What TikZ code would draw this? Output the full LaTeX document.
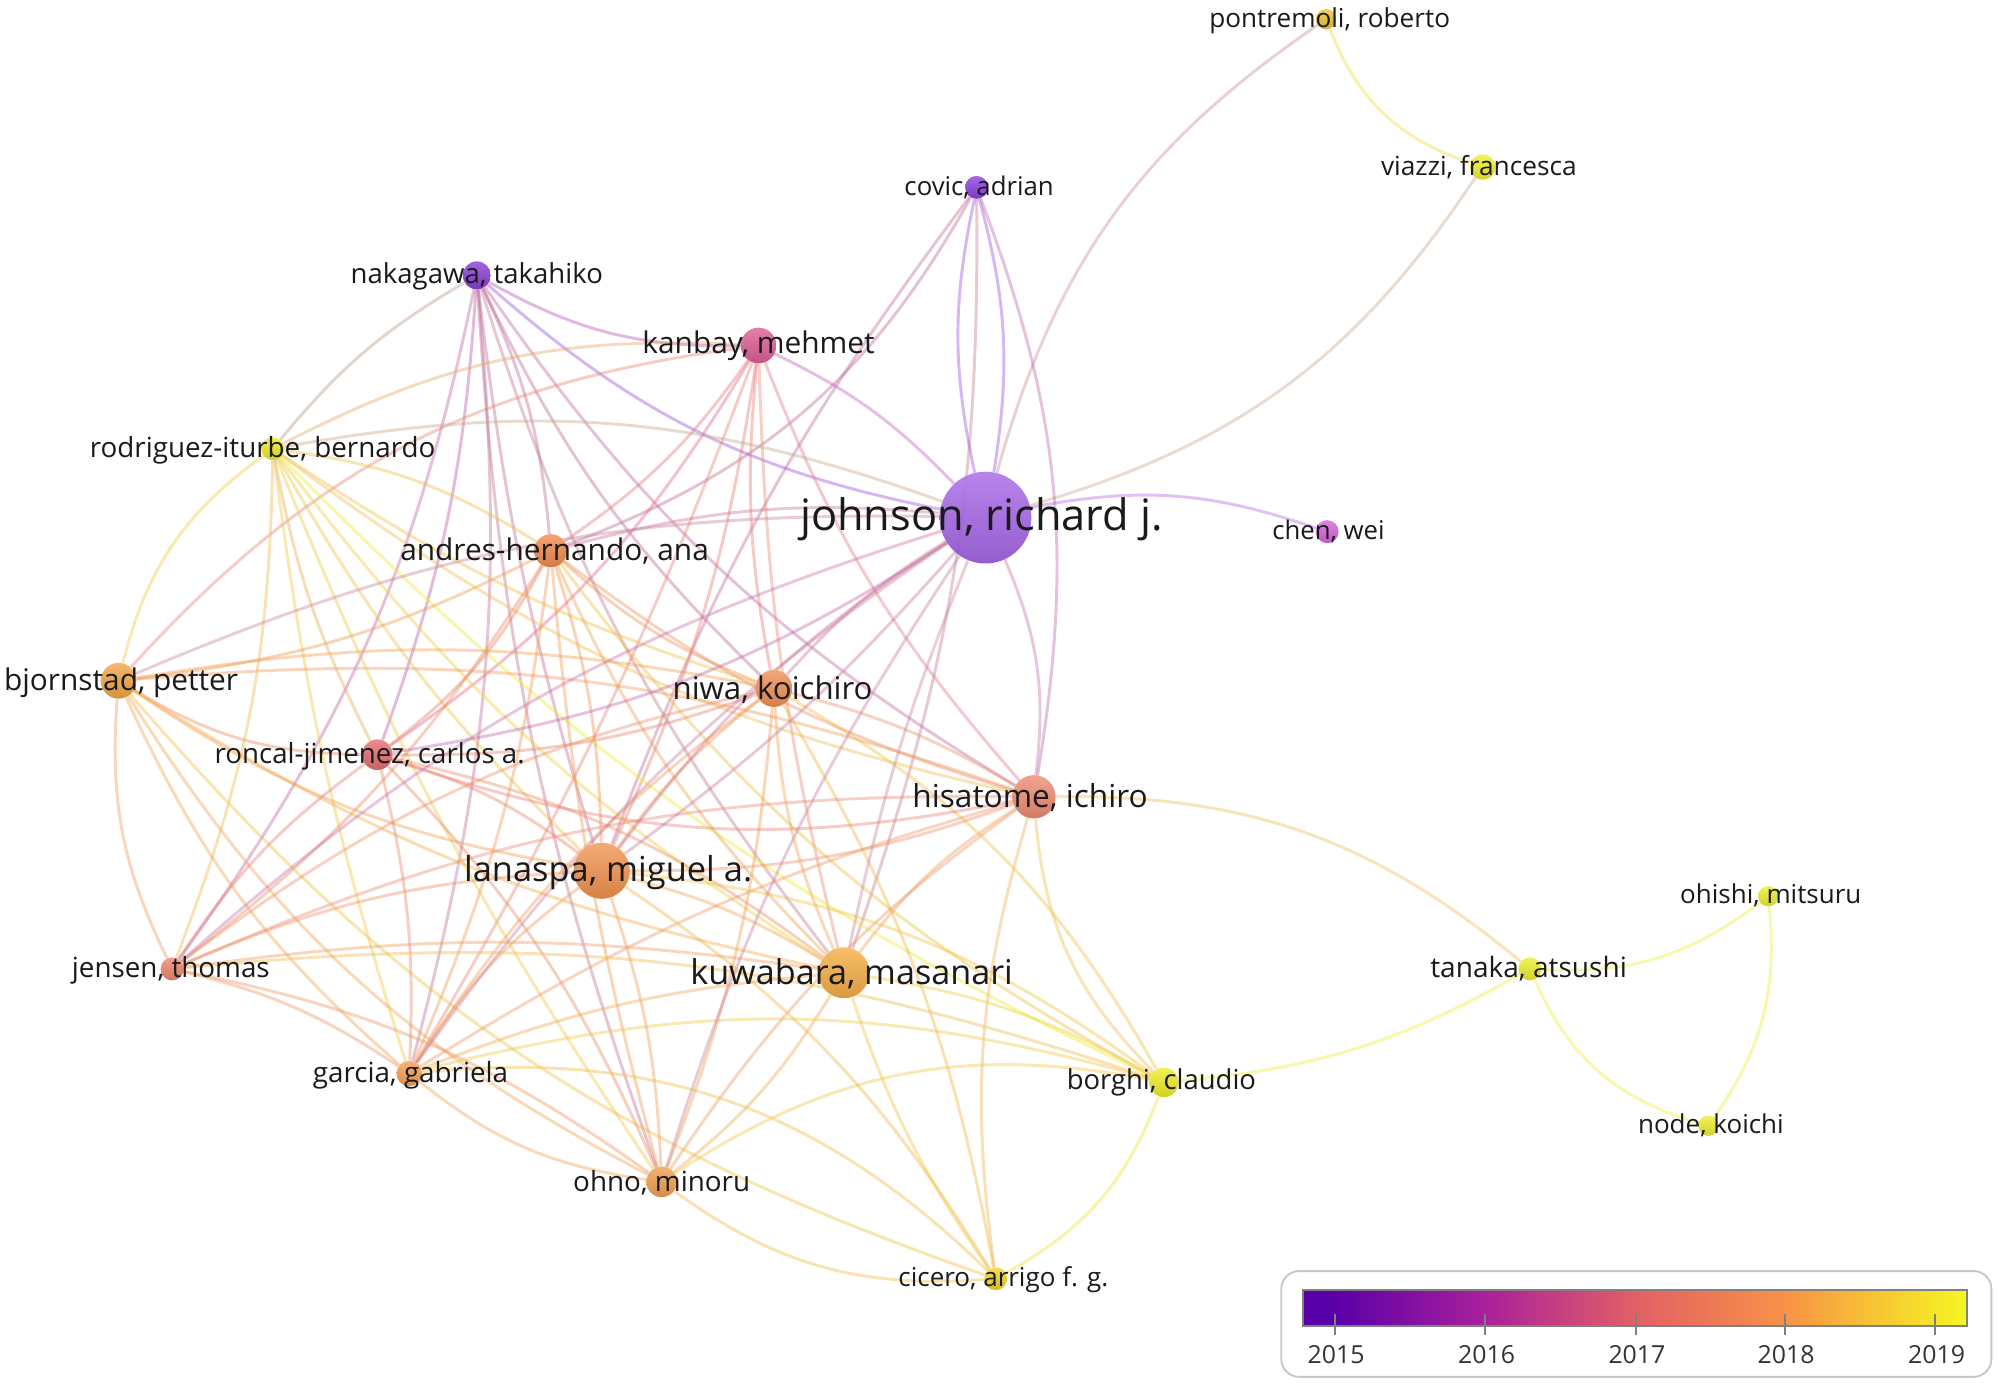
\documentclass[tikz,border=0pt]{standalone}
\usepackage{fontspec}
\setmainfont{Open Sans}
\pgfdeclarelayer{bg}
\pgfsetlayers{bg,main}
\definecolor{cJ}{RGB}{160,90,230}
\definecolor{cCO}{RGB}{140,65,220}
\definecolor{cNA}{RGB}{138,62,215}
\definecolor{cKA}{RGB}{222,95,150}
\definecolor{cRI}{RGB}{236,236,40}
\definecolor{cAH}{RGB}{240,140,80}
\definecolor{cBJ}{RGB}{242,165,70}
\definecolor{cNI}{RGB}{240,145,85}
\definecolor{cRO}{RGB}{228,110,115}
\definecolor{cHI}{RGB}{238,140,115}
\definecolor{cLA}{RGB}{242,148,80}
\definecolor{cJE}{RGB}{238,135,110}
\definecolor{cKU}{RGB}{245,175,70}
\definecolor{cGA}{RGB}{244,160,85}
\definecolor{cBO}{RGB}{238,238,40}
\definecolor{cOH}{RGB}{242,160,80}
\definecolor{cCI}{RGB}{240,215,40}
\definecolor{cCH}{RGB}{215,100,220}
\definecolor{cPO}{RGB}{240,195,60}
\definecolor{cVI}{RGB}{240,240,50}
\definecolor{cTA}{RGB}{238,238,50}
\definecolor{cOI}{RGB}{238,238,50}
\definecolor{cNO}{RGB}{238,238,50}
\definecolor{txt}{RGB}{26,26,26}
\tikzset{
  vn/.style={circle, inner sep=0pt, minimum size=#1, draw=none},
  vc/.style={top color=#1!80!white, bottom color=#1!88!black, shading angle=0},
  lk/.style={line width=2.3pt, draw opacity=0.4},
  lab/.style={text=txt, inner sep=0pt, anchor=base},
}
\newcommand\fsz[1]{\fontsize{#1}{#1}\selectfont}
\newcommand\lnk[3][15]{\draw[lk,draw=c#2!50!c#3] (#2) to[bend left=#1] (#3);}
\begin{document}
\begin{tikzpicture}[x=1pt,y=-1pt]
\useasboundingbox (0,0) rectangle (1568,1086);
\begin{pgfonlayer}{bg}
\fill[white] (0,0) rectangle (1568,1086);
\end{pgfonlayer}
% nodes
\node[vn=72, vc=cJ, fill opacity=0.92] (J) at (773,406) {};
\node[vn=18, vc=cCO] (CO) at (766,147) {};
\node[vn=22, vc=cNA] (NA) at (374,216) {};
\node[vn=28, vc=cKA] (KA) at (595,271) {};
\node[vn=18, vc=cRI] (RI) at (214,352) {};
\node[vn=26, vc=cAH] (AH) at (432,432) {};
\node[vn=28, vc=cBJ] (BJ) at (93,534) {};
\node[vn=29, vc=cNI] (NI) at (607,540) {};
\node[vn=24, vc=cRO] (RO) at (296,592) {};
\node[vn=34, vc=cHI] (HI) at (811,625) {};
\node[vn=44, vc=cLA] (LA) at (472,683) {};
\node[vn=18, vc=cJE] (JE) at (135,760) {};
\node[vn=40, vc=cKU] (KU) at (662,763) {};
\node[vn=20, vc=cGA] (GA) at (321,842) {};
\node[vn=23, vc=cBO] (BO) at (913,849) {};
\node[vn=24, vc=cOH] (OH) at (519,927) {};
\node[vn=18, vc=cCI] (CI) at (781,1003) {};
\node[vn=18, vc=cCH] (CH) at (1041,417) {};
\node[vn=16, vc=cPO] (PO) at (1040,15) {};
\node[vn=20, vc=cVI] (VI) at (1163,131) {};
\node[vn=18, vc=cTA] (TA) at (1200,760) {};
\node[vn=16, vc=cOI] (OI) at (1387,703) {};
\node[vn=16, vc=cNO] (NO) at (1340,883) {};
% edges
\begin{pgfonlayer}{bg}
\lnk[20]{J}{PO}
\lnk[20]{VI}{J}
\lnk[-25]{PO}{VI}
\lnk[15]{J}{CH}
\lnk[20]{HI}{TA}
\lnk[-12]{BO}{TA}
\lnk[-20]{TA}{OI}
\lnk[-25]{TA}{NO}
\lnk[-20]{NO}{OI}
\lnk[12]{CO}{J}
\lnk[-12]{CO}{J}
\lnk[15]{CO}{HI}
\lnk[20]{CO}{AH}
\lnk[-8]{CO}{LA}
\lnk[10]{CO}{KU}
\lnk[-15]{NA}{J}
\lnk[-10]{NA}{RI}
\lnk[12]{NA}{JE}
\lnk[8]{NA}{RO}
\lnk[10]{NA}{GA}
\lnk[-5]{NA}{LA}
\lnk[-10]{NA}{NI}
\lnk[10]{NA}{AH}
\lnk[-10]{NA}{KU}
\lnk[-8]{NA}{OH}
\lnk[-12]{NA}{HI}
\lnk[-15]{NA}{KA}
\lnk[10]{KA}{J}
\lnk[-8]{KA}{NI}
\lnk[8]{KA}{LA}
\lnk[-6]{KA}{KU}
\lnk[-10]{KA}{HI}
\lnk[12]{KA}{RO}
\lnk[10]{KA}{AH}
\lnk[15]{RI}{KA}
\lnk[5]{KA}{GA}
\lnk[20]{BJ}{KA}
\lnk[20]{BJ}{RI}
\lnk[-8]{RI}{RO}
\lnk[10]{RI}{JE}
\lnk[-8]{RI}{LA}
\lnk[-8]{RI}{NI}
\lnk[-10]{RI}{KU}
\lnk[12]{RI}{AH}
\lnk[-5]{RI}{GA}
\lnk[-12]{RI}{HI}
\lnk[-10]{RI}{BO}
\lnk[-6]{RI}{OH}
\lnk[15]{RI}{J}
\lnk[10]{AH}{BJ}
\lnk[-10]{AH}{NI}
\lnk[12]{AH}{RO}
\lnk[8]{AH}{LA}
\lnk[10]{AH}{JE}
\lnk[-10]{AH}{KU}
\lnk[8]{AH}{GA}
\lnk[-5]{AH}{OH}
\lnk[-10]{AH}{HI}
\lnk[-12]{AH}{BO}
\lnk[-10]{J}{AH}
\lnk[-15]{BJ}{RO}
\lnk[-12]{BJ}{LA}
\lnk[-15]{BJ}{JE}
\lnk[-10]{BJ}{KU}
\lnk[-12]{BJ}{GA}
\lnk[-15]{BJ}{OH}
\lnk[10]{BJ}{NI}
\lnk[12]{BJ}{HI}
\lnk[-15]{BJ}{CI}
\lnk[12]{BJ}{J}
\lnk[10]{NI}{RO}
\lnk[-8]{NI}{LA}
\lnk[-10]{NI}{KU}
\lnk[8]{NI}{HI}
\lnk[-10]{NI}{GA}
\lnk[8]{NI}{OH}
\lnk[-12]{NI}{JE}
\lnk[15]{NI}{BO}
\lnk[10]{NI}{CI}
\lnk[-8]{J}{NI}
\lnk[10]{RO}{LA}
\lnk[-10]{RO}{JE}
\lnk[12]{RO}{KU}
\lnk[-15]{RO}{HI}
\lnk[8]{RO}{GA}
\lnk[10]{RO}{OH}
\lnk[12]{J}{RO}
\lnk[10]{HI}{LA}
\lnk[-10]{HI}{KU}
\lnk[-12]{HI}{JE}
\lnk[-8]{HI}{GA}
\lnk[-10]{HI}{OH}
\lnk[-20]{HI}{BO}
\lnk[-12]{HI}{CI}
\lnk[15]{J}{HI}
\lnk[-10]{LA}{JE}
\lnk[8]{LA}{KU}
\lnk[-10]{LA}{GA}
\lnk[8]{LA}{OH}
\lnk[15]{LA}{BO}
\lnk[12]{LA}{CI}
\lnk[-10]{J}{LA}
\lnk[6]{J}{LA}
\lnk[8]{JE}{KU}
\lnk[10]{JE}{GA}
\lnk[12]{JE}{OH}
\lnk[12]{JE}{BO}
\lnk[-12]{J}{JE}
\lnk[-8]{KU}{GA}
\lnk[10]{KU}{OH}
\lnk[10]{KU}{BO}
\lnk[-8]{KU}{CI}
\lnk[-5]{J}{KU}
\lnk[-15]{GA}{OH}
\lnk[15]{GA}{BO}
\lnk[25]{GA}{CI}
\lnk[-10]{J}{GA}
\lnk[22]{OH}{BO}
\lnk[-20]{OH}{CI}
\lnk[-8]{J}{OH}
\lnk[20]{BO}{CI}
\end{pgfonlayer}
% labels (anchored at their baselines)
\node[lab, font=\fsz{34}] (lJ) at (770,416.5) {johnson, richard j.};
\node[lab, font=\fsz{20.2}] (lCO) at (768,153.3) {covic, adrian};
\node[lab, font=\fsz{21.6}] (lNA) at (374,222.7) {nakagawa, takahiko};
\node[lab, font=\fsz{23.4}] (lKA) at (595,277.3) {kanbay, mehmet};
\node[lab, font=\fsz{21.8}] (lRI) at (206,358.8) {rodriguez-iturbe, bernardo};
\node[lab, font=\fsz{23.4}] (lAH) at (435,439.3) {andres-hernando, ana};
\node[lab, font=\fsz{23.4}] (lBJ) at (95,541.3) {bjornstad, petter};
\node[lab, font=\fsz{24.5}] (lNI) at (606,548.6) {niwa, koichiro};
\node[lab, font=\fsz{21.7}] (lRO) at (290,598.7) {roncal-jimenez, carlos a.};
\node[lab, font=\fsz{24.8}] (lHI) at (808,633.7) {hisatome, ichiro};
\node[lab, font=\fsz{27}] (lLA) at (477,691.4) {lanaspa, miguel a.};
\node[lab, font=\fsz{21.8}] (lJE) at (134,766.8) {jensen, thomas};
\node[lab, font=\fsz{26.8}] (lKU) at (668,772.3) {kuwabara, masanari};
\node[lab, font=\fsz{21.8}] (lGA) at (322,848.8) {garcia, gabriela};
\node[lab, font=\fsz{21.5}] (lBO) at (911,854.7) {borghi, claudio};
\node[lab, font=\fsz{21.8}] (lOH) at (519,934.8) {ohno, minoru};
\node[lab, font=\fsz{20.4}] (lCI) at (787,1009.3) {cicero, arrigo f. g.};
\node[lab, font=\fsz{20.2}] (lCH) at (1042,423.3) {chen, wei};
\node[lab, font=\fsz{20.5}] (lPO) at (1043,21.4) {pontremoli, roberto};
\node[lab, font=\fsz{20.6}] (lVI) at (1160,137.4) {viazzi, francesca};
\node[lab, font=\fsz{22}] (lTA) at (1199,766.8) {tanaka, atsushi};
\node[lab, font=\fsz{20.4}] (lOI) at (1389,708.3) {ohishi, mitsuru};
\node[lab, font=\fsz{20.4}] (lNO) at (1342,889.3) {node, koichi};
% colour bar
\node[draw=black!22, line width=1.5pt, rounded corners=14pt, minimum width=557pt, minimum height=83pt, inner sep=0pt] (cbox) at (1283.5,1038.5) {};
\fill[color={rgb,255:red,88;green,0;blue,168}] (1022,1012) rectangle (1047,1040);
\shade[left color={rgb,255:red,90;green,0;blue,168}, right color={rgb,255:red,170;green,32;blue,155}, shading angle=90] (1046.5,1012) rectangle (1165.5,1040);
\shade[left color={rgb,255:red,170;green,32;blue,155}, right color={rgb,255:red,226;green,96;blue,102}, shading angle=90] (1165,1012) rectangle (1283.5,1040);
\shade[left color={rgb,255:red,226;green,96;blue,102}, right color={rgb,255:red,248;green,146;blue,70}, shading angle=90] (1283,1012) rectangle (1400.5,1040);
\shade[left color={rgb,255:red,248;green,146;blue,70}, right color={rgb,255:red,246;green,230;blue,40}, shading angle=90] (1400,1012) rectangle (1518.5,1040);
\shade[left color={rgb,255:red,246;green,230;blue,40}, right color={rgb,255:red,246;green,246;blue,34}, shading angle=90] (1518,1012) rectangle (1543,1040);
\node[draw=black!50, line width=1.5pt, minimum width=521pt, minimum height=28pt, inner sep=0pt] (cbar) at (1282.5,1026) {};
\foreach \tx in {1047,1165,1283,1400,1518} \draw[black!50, line width=1.5pt] (\tx,1031) -- (\tx,1047);
\node[lab, text=black!80, font=\fsz{19.5}] (y15) at (1048,1069.5) {2015};
\node[lab, text=black!80, font=\fsz{19.5}] (y16) at (1166,1069.5) {2016};
\node[lab, text=black!80, font=\fsz{19.5}] (y17) at (1284,1069.5) {2017};
\node[lab, text=black!80, font=\fsz{19.5}] (y18) at (1401,1069.5) {2018};
\node[lab, text=black!80, font=\fsz{19.5}] (y19) at (1519,1069.5) {2019};
\end{tikzpicture}
\end{document}
